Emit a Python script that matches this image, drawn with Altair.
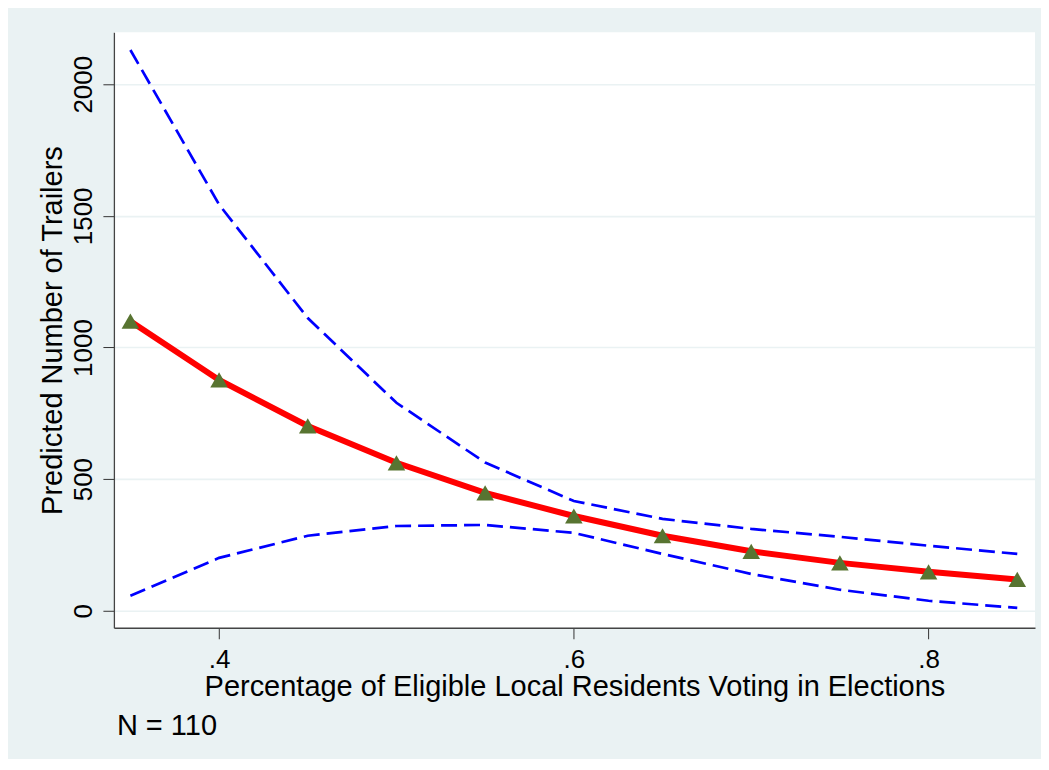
import altair as alt
import pandas as pd

# Data
x_vals = [0.35, 0.40, 0.45, 0.50, 0.55, 0.60, 0.65, 0.70, 0.75, 0.80, 0.85]
predicted = [1100, 877, 702, 562, 448, 360, 285, 226, 182, 148, 119]
upper_ci = [2130, 1543, 1112, 790, 563, 417, 349, 311, 281, 247, 216]
lower_ci = [57, 201, 285, 322, 326, 296, 216, 140, 80, 38, 11]
x_ticks = [0.4, 0.6, 0.8]
y_ticks = [0, 500, 1000, 1500, 2000]
note_text = ["N = 110"]

df = pd.DataFrame({"x": x_vals, "pred": predicted, "upper": upper_ci, "lower": lower_ci})
note_df = pd.DataFrame({"t": note_text})

FONT = "Liberation Sans"
BG = "#EAF2F3"

xscale = alt.Scale(domain=[0.3407, 0.86], nice=False, zero=False)
yscale = alt.Scale(domain=[-64.5, 2197], nice=False, zero=False)

xaxis = alt.Axis(
    values=x_ticks,
    labelExpr="replace(format(datum.value, '.1f'), '0.', '.')",
    grid=False,
    tickSize=11,
    tickColor="#333333",
    domainColor="#444444",
    domainWidth=1.3,
    labelFontSize=26,
    labelFont=FONT,
    labelColor="#000000",
    labelBaseline="alphabetic",
    labelPadding=29,
    title="Percentage of Eligible Local Residents Voting in Elections",
    titleFont=FONT,
    titleFontSize=29,
    titleFontWeight="normal",
    titleColor="#000000",
    titleBaseline="alphabetic",
    titleY=68,
)

yaxis = alt.Axis(
    values=y_ticks,
    format="d",
    grid=True,
    gridColor=BG,
    gridWidth=1.6,
    tickSize=11,
    tickColor="#333333",
    domainColor="#444444",
    domainWidth=1.3,
    labelFontSize=26,
    labelFont=FONT,
    labelColor="#000000",
    labelAngle=270,
    labelAlign="center",
    labelBaseline="alphabetic",
    labelPadding=11,
    title="Predicted Number of Trailers",
    titleFont=FONT,
    titleFontSize=29,
    titleFontWeight="normal",
    titleColor="#000000",
    titleAngle=270,
    titleAlign="center",
    titleBaseline="alphabetic",
    titleX=-52,
    titleY=298,
)

base = alt.Chart(df)

upper_line = base.mark_line(color="#0000FF", strokeWidth=2.7, strokeDash=[16, 7]).encode(
    x=alt.X("x:Q", scale=xscale, axis=xaxis),
    y=alt.Y("upper:Q", scale=yscale, axis=yaxis),
)
lower_line = base.mark_line(color="#0000FF", strokeWidth=2.7, strokeDash=[16, 7]).encode(
    x=alt.X("x:Q", scale=xscale),
    y=alt.Y("lower:Q", scale=yscale),
)
pred_line = base.mark_line(color="#FF0000", strokeWidth=6).encode(
    x=alt.X("x:Q", scale=xscale),
    y=alt.Y("pred:Q", scale=yscale),
)
pred_pts = base.mark_point(shape="triangle-up", filled=True, size=310, color="#587431", opacity=1).encode(
    x=alt.X("x:Q", scale=xscale),
    y=alt.Y("pred:Q", scale=yscale),
)
note = alt.Chart(note_df).mark_text(
    align="left", baseline="alphabetic", fontSize=29, font=FONT, color="#000000"
).encode(x=alt.value(3), y=alt.value(703), text="t:N")

chart = alt.layer(upper_line, lower_line, pred_line, pred_pts, note).properties(
    width=922,
    height=596,
    autosize=alt.AutoSizeParams(type="none"),
    padding={"left": 106, "top": 24, "right": 6, "bottom": 131},
    background=BG,
).configure_view(fill="white", stroke=None)

chart.save("out.html", embed_options={"renderer": "svg", "actions": False})
